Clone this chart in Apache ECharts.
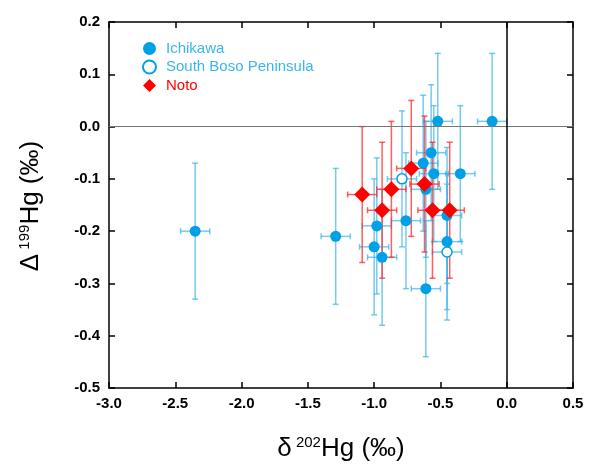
<!DOCTYPE html>
<html><head><meta charset="utf-8">
<script src="https://cdn.jsdelivr.net/npm/echarts@6/dist/echarts.min.js"></script>
<style>html,body{margin:0;padding:0;background:#fff}#c{width:597px;height:464px}</style>
</head><body><div id="c"></div>
<script>
// δ202Hg (x), Δ199Hg (y), 2SD errors
var ichikawaX    = [-2.35, -1.29, -1.00, -0.98, -0.94, -0.76, -0.63, -0.57, -0.52, -0.55, -0.35, -0.11, -0.61, -0.45, -0.45, -0.61];
var ichikawaY    = [-0.20, -0.21, -0.23, -0.19, -0.25, -0.18, -0.07, -0.05, 0.01, -0.09, -0.09, 0.01, -0.12, -0.17, -0.22, -0.31];
var ichikawaXErr = [0.11, 0.11, 0.11, 0.11, 0.11, 0.11, 0.11, 0.11, 0.11, 0.11, 0.11, 0.11, 0.11, 0.11, 0.11, 0.11];
var ichikawaYErr = [0.13, 0.13, 0.13, 0.13, 0.13, 0.13, 0.13, 0.13, 0.13, 0.13, 0.13, 0.13, 0.13, 0.13, 0.13, 0.13];

var bosoX    = [-0.79, -0.45];
var bosoY    = [-0.10, -0.24];
var bosoXErr = [0.11, 0.11];
var bosoYErr = [0.13, 0.13];

var notoX    = [-1.09, -0.94, -0.87, -0.72, -0.62, -0.56, -0.43];
var notoY    = [-0.13, -0.16, -0.12, -0.08, -0.11, -0.16, -0.16];
var notoXErr = [0.11, 0.11, 0.11, 0.11, 0.11, 0.11, 0.11];
var notoYErr = [0.13, 0.13, 0.13, 0.13, 0.13, 0.13, 0.13];

var xTicks = [-3.0, -2.5, -2.0, -1.5, -1.0, -0.5, 0.0, 0.5];
var yTicks = [-0.5, -0.4, -0.3, -0.2, -0.1, 0.0, 0.1, 0.2];

var BLUE = '#00a0e6';
var RED = '#ff0000';
var FONT = 'Liberation Sans, Arial, sans-serif';

function pts(xs, ys) { return xs.map(function (x, i) { return [x, ys[i]]; }); }
function errs(xs, ys, ex, ey) { return xs.map(function (x, i) { return [x, ys[i], ex[i], ey[i]]; }); }

function errSeries(name, data, color, opacity) {
  return {
    type: 'custom', name: name, data: data, silent: true, z: 2,
    renderItem: function (params, api) {
      var x = api.value(0), y = api.value(1), ex = api.value(2), ey = api.value(3);
      var l = api.coord([x - ex, y]), r = api.coord([x + ex, y]);
      var t = api.coord([x, y + ey]), b = api.coord([x, y - ey]);
      var cap = 3;
      var st = { stroke: color, lineWidth: 1.5, opacity: opacity };
      return { type: 'group', children: [
        { type: 'line', shape: { x1: l[0], y1: l[1], x2: r[0], y2: r[1] }, style: st },
        { type: 'line', shape: { x1: t[0], y1: t[1], x2: b[0], y2: b[1] }, style: st },
        { type: 'line', shape: { x1: l[0], y1: l[1] - cap, x2: l[0], y2: l[1] + cap }, style: st },
        { type: 'line', shape: { x1: r[0], y1: r[1] - cap, x2: r[0], y2: r[1] + cap }, style: st },
        { type: 'line', shape: { x1: t[0] - cap, y1: t[1], x2: t[0] + cap, y2: t[1] }, style: st },
        { type: 'line', shape: { x1: b[0] - cap, y1: b[1], x2: b[0] + cap, y2: b[1] }, style: st }
      ]};
    }
  };
}

var chart = echarts.init(document.getElementById('c'), null, { renderer: 'canvas' });
var tickFont = { color: '#000', fontSize: 15, fontWeight: 'bold', fontFamily: FONT };
var fmt = function (v) { return (+v).toFixed(1); };
var axisBase = {
  axisLine: { show: true, onZero: false, lineStyle: { color: '#000', width: 1.5 } },
  axisTick: { show: true, inside: true, length: 6, lineStyle: { color: '#000', width: 1.5 } },
  splitLine: { show: false }
};
function ax(extra) { return Object.assign({}, axisBase, extra); }

var titleRich = {
  a: { fontSize: 26, fontFamily: FONT, fill: '#000', color: '#000' },
  s: { fontSize: 15, fontFamily: FONT, fill: '#000', color: '#000', verticalAlign: 'top', padding: [0, 0, 12, 0] }
};

chart.setOption({
  animation: false,
  backgroundColor: '#fff',
  grid: { left: 109, right: 24, top: 22, bottom: 76 },
  legend: {
    orient: 'vertical', left: 137, top: 36, itemWidth: 13, itemHeight: 13, itemGap: 3.5,
    selectedMode: false,
    textStyle: { fontSize: 15, fontFamily: FONT, color: '#3ab7ea', padding: [0, 0, 0, 5] },
    data: [
      { name: 'Ichikawa' },
      { name: 'South Boso Peninsula' },
      { name: 'Noto', textStyle: { color: RED } }
    ]
  },
  xAxis: [
    ax({ type: 'value', min: -3, max: 0.5, interval: 0.5, position: 'bottom',
         axisLabel: Object.assign({ margin: 8, formatter: fmt }, tickFont) }),
    ax({ type: 'value', min: -3, max: 0.5, interval: 0.5, position: 'top', axisLabel: { show: false } })
  ],
  yAxis: [
    ax({ type: 'value', min: -0.5, max: 0.2, interval: 0.1, position: 'left',
         axisLabel: Object.assign({ margin: 9, formatter: fmt }, tickFont) }),
    ax({ type: 'value', min: -0.5, max: 0.2, interval: 0.1, position: 'right', axisLabel: { show: false } })
  ],
  graphic: [
    {
      type: 'text', x: 341, y: 449, z: 10,
      style: { text: '{a|δ}{s| 202}{a|Hg (‰)}', rich: titleRich, align: 'center', verticalAlign: 'middle' }
    },
    {
      type: 'text', x: 31, y: 206, rotation: Math.PI / 2, z: 10,
      style: { text: '{a|Δ}{s| 199}{a|Hg (‰)}', rich: titleRich, align: 'center', verticalAlign: 'middle' }
    }
  ],
  series: [
    errSeries('ichikawaErr', errs(ichikawaX, ichikawaY, ichikawaXErr, ichikawaYErr), '#3ab4e8', 0.7),
    errSeries('bosoErr', errs(bosoX, bosoY, bosoXErr, bosoYErr), '#3ab4e8', 0.7),
    {
      type: 'line', name: 'refLines', data: [], silent: true, z: 1,
      markLine: {
        silent: true, symbol: 'none', label: { show: false }, animation: false,
        data: [
          { yAxis: 0, lineStyle: { color: '#777', width: 1.2, type: 'solid' } },
          { xAxis: 0, lineStyle: { color: '#000', width: 1.5, type: 'solid' } }
        ]
      }
    },
    {
      type: 'scatter', name: 'Ichikawa', data: pts(ichikawaX, ichikawaY), symbol: 'circle', symbolSize: 11, z: 3,
      itemStyle: { color: BLUE, opacity: 1 }
    },
    {
      type: 'scatter', name: 'South Boso Peninsula', data: pts(bosoX, bosoY), symbol: 'circle', symbolSize: 10, z: 3,
      itemStyle: { color: '#fff', borderColor: BLUE, borderWidth: 1.5, opacity: 1 }
    },
    errSeries('notoErr', errs(notoX, notoY, notoXErr, notoYErr), '#ff2a2a', 0.75),
    {
      type: 'scatter', name: 'Noto', data: pts(notoX, notoY), symbol: 'diamond', symbolSize: 16, z: 5,
      itemStyle: { color: RED, opacity: 1 }
    }
  ]
});
</script></body></html>
